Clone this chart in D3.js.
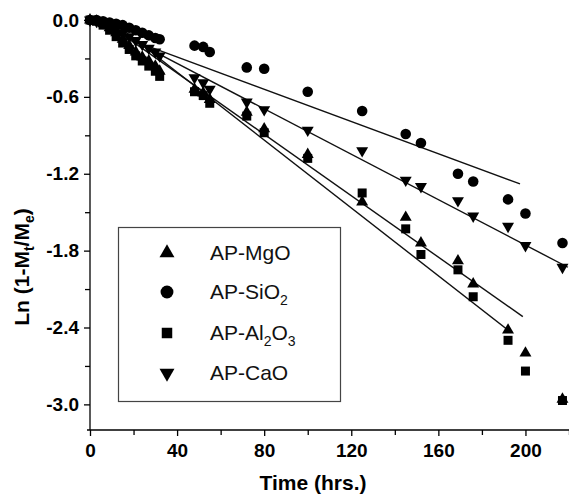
<!DOCTYPE html>
<html>
<head>
<meta charset="utf-8">
<script src="https://cdn.jsdelivr.net/npm/d3@7"></script>
<style>
  body { margin: 0; background: #fff; }
  svg { display: block; font-family: "Liberation Sans", Arial, sans-serif; }
</style>
</head>
<body>
<div id="chart"></div>
<script>
// Sorption data: time (hrs.) against Ln(1 - Mt/Me)
const timesEarly = [0, 3, 6, 9, 12, 15, 18, 21, 24, 27, 30, 32];
const timesLate = [48, 52, 55, 72, 80, 100, 125, 145, 152, 169, 176, 192, 200, 217];
const times = timesEarly.concat(timesLate);

const mgoValues = [0, -0.01, -0.03, -0.06, -0.10, -0.15, -0.20, -0.25, -0.29, -0.32, -0.36, -0.40,
    -0.54, -0.57, -0.62, -0.72, -0.85, -1.05, -1.42, -1.54, -1.74, -1.88, -2.06, -2.42, -2.60, -2.96];
const sio2Values = [0, 0, -0.01, -0.02, -0.03, -0.04, -0.06, -0.08, -0.10, -0.12, -0.14, -0.15,
    -0.20, -0.21, -0.25, -0.37, -0.38, -0.56, -0.71, -0.89, -0.96, -1.20, -1.26, -1.40, -1.51, -1.74];
const al2o3Values = [0, -0.01, -0.04, -0.08, -0.13, -0.18, -0.23, -0.28, -0.32, -0.36, -0.40, -0.44,
    -0.56, -0.59, -0.65, -0.75, -0.88, -1.08, -1.35, -1.63, -1.83, -1.95, -2.16, -2.50, -2.74, -2.97];
const caoValues = [0, -0.01, -0.02, -0.04, -0.07, -0.10, -0.13, -0.16, -0.19, -0.22, -0.25, -0.28,
    -0.45, -0.49, -0.54, -0.64, -0.70, -0.86, -1.02, -1.25, -1.30, -1.41, -1.53, -1.61, -1.76, -1.93];

// linear fits drawn on the figure
const fitSlopes = [-0.01198, -0.00629, -0.01324, -0.00886];
const fitIntercepts = [0.066, -0.037, 0.122, 0.015];
const fitStarts = [16, 16, 16, 16];
const fitEnds = [198.8, 197.5, 192.8, 219.5];

const seriesNames = ["AP-MgO", "AP-SiO2", "AP-Al2O3", "AP-CaO"];
const seriesValues = [mgoValues, sio2Values, al2o3Values, caoValues];

const xTicks = [0, 40, 80, 120, 160, 200];
const xMinorTicks = [20, 60, 100, 140, 180, 220];
const yTicks = [0, -0.6, -1.2, -1.8, -2.4, -3.0];
const yMinorTicks = [-0.3, -0.9, -1.5, -2.1, -2.7];

let width = 569;
let height = 494;
let margin = {top: 20, right: 0, bottom: 64, left: 90};

let svg = d3.select("#chart").append("svg")
    .attr("width", width)
    .attr("height", height);

let x = d3.scaleLinear()
    .domain([0, 220])
    .range([margin.left, width - margin.right]);

let y = d3.scaleLinear()
    .domain([-3.2, 0])
    .range([height - margin.bottom, margin.top]);

// marker shapes: up triangle, circle, square, down triangle
let shapes = [d3.symbolTriangle, d3.symbolCircle, d3.symbolSquare, d3.symbolTriangle];
let plotSizes = [62, 88, 81, 62];
let legendSizes = [97, 130, 110, 97];
let rotations = [0, 0, 0, 180];

// plain hyphen for negative labels, as in the original figure
let yFormat = d => d3.format(".1f")(d).replace("\u2212", "-");

// x axis
svg.append("g")
    .attr("transform", `translate(0, ${y(-3.2)})`)
    .call(d3.axisBottom(x).tickValues(xMinorTicks).tickSize(5).tickFormat(""))
    .call(g => g.select(".domain").remove());

svg.append("g")
    .attr("transform", `translate(0, ${y(-3.2)})`)
    .call(d3.axisBottom(x).tickValues(xTicks).tickSize(6).tickSizeOuter(0).tickPadding(8))
    .call(g => g.select(".domain").attr("d", `M${margin.left - 3},0H${width}`))
    .call(g => g.selectAll("text")
        .attr("font-size", 19)
        .attr("font-weight", "bold")
        .attr("font-family", "Liberation Sans, Arial, sans-serif"));

// y axis
svg.append("g")
    .attr("transform", `translate(${margin.left}, 0)`)
    .call(d3.axisLeft(y).tickValues(yMinorTicks).tickSize(5).tickFormat(""))
    .call(g => g.select(".domain").remove());

svg.append("g")
    .attr("transform", `translate(${margin.left}, 0)`)
    .call(d3.axisLeft(y).tickValues(yTicks).tickSize(6).tickSizeOuter(0)
        .tickPadding(5).tickFormat(yFormat))
    .call(g => g.select(".domain").attr("d", `M0,${y(0)}V${y(-3.2)}`))
    .call(g => g.selectAll("text")
        .attr("font-size", 19)
        .attr("font-weight", "bold")
        .attr("font-family", "Liberation Sans, Arial, sans-serif"));

svg.selectAll(".tick line, .domain").attr("stroke", "#000").attr("stroke-width", 1.3);

// fit lines
let lineGroup = svg.append("g");
seriesNames.forEach((name, i) => {
    lineGroup.append("line")
        .attr("x1", x(fitStarts[i]))
        .attr("y1", y(fitIntercepts[i] + fitSlopes[i] * fitStarts[i]))
        .attr("x2", x(fitEnds[i]))
        .attr("y2", y(fitIntercepts[i] + fitSlopes[i] * fitEnds[i]))
        .attr("stroke", "#111")
        .attr("stroke-width", 1.4);
});

// points
seriesNames.forEach((name, i) => {
    svg.append("g")
        .selectAll("path")
        .data(times.map((t, j) => [t, seriesValues[i][j]]))
        .enter()
        .append("path")
        .attr("d", d3.symbol().type(shapes[i]).size(plotSizes[i]))
        .attr("transform", d => `translate(${x(d[0])}, ${y(d[1])}) rotate(${rotations[i]})`)
        .attr("fill", "#000");
});

// legend
let legend = svg.append("g");
legend.append("rect")
    .attr("x", 118.5)
    .attr("y", 227.5)
    .attr("width", 222)
    .attr("height", 174)
    .attr("fill", "#fff")
    .attr("stroke", "#444")
    .attr("stroke-width", 1.2);

let legendRows = [253, 292, 333, 373];
let legendLabels = [
    [["AP-MgO", 0]],
    [["AP-SiO", 0], ["2", 1]],
    [["AP-Al", 0], ["2", 1], ["O", 0], ["3", 1]],
    [["AP-CaO", 0]]
];

seriesNames.forEach((name, i) => {
    legend.append("path")
        .attr("d", d3.symbol().type(shapes[i]).size(legendSizes[i]))
        .attr("transform", `translate(167, ${legendRows[i]}) rotate(${rotations[i]})`)
        .attr("fill", "#000");

    let text = legend.append("text")
        .attr("x", 210)
        .attr("y", legendRows[i] + 7)
        .attr("font-size", 21)
        .attr("fill", "#111");
    let shifted = 0;
    legendLabels[i].forEach(part => {
        let dy = part[1] ? 6 - shifted : -shifted;
        shifted = part[1] ? 6 : 0;
        text.append("tspan")
            .attr("dy", dy)
            .attr("font-size", part[1] ? 14 : 21)
            .text(part[0]);
    });
});

// axis titles
svg.append("text")
    .attr("x", 313)
    .attr("y", 490)
    .attr("text-anchor", "middle")
    .attr("font-size", 21)
    .attr("font-weight", "bold")
    .text("Time (hrs.)");

let yTitle = svg.append("text")
    .attr("transform", "translate(29, 267) rotate(-90)")
    .attr("text-anchor", "middle")
    .attr("font-size", 21)
    .attr("font-weight", "bold");
yTitle.append("tspan").text("Ln (1-M");
yTitle.append("tspan").attr("dy", 5).attr("font-size", 14).text("t");
yTitle.append("tspan").attr("dy", -5).text("/M");
yTitle.append("tspan").attr("dy", 5).attr("font-size", 14).text("e");
yTitle.append("tspan").attr("dy", -5).text(")");
</script>
</body>
</html>
